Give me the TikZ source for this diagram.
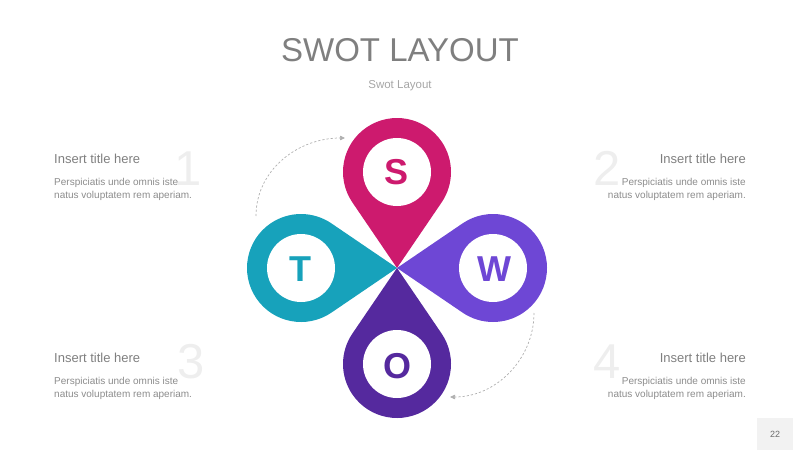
\documentclass[tikz,border=0pt]{standalone}
\usepackage{fontspec}
\setmainfont{Liberation Sans}
\usetikzlibrary{arrows.meta}
\definecolor{cS}{HTML}{CD1A6E}
\definecolor{cT}{HTML}{17A2BB}
\definecolor{cW}{HTML}{6E47D5}
\definecolor{cO}{HTML}{55299E}
\definecolor{titlegray}{HTML}{7F7F7F}
\definecolor{subgray}{HTML}{A6A6A6}
\definecolor{bodygray}{HTML}{8C8C8C}
\definecolor{numgray}{HTML}{EEEEEE}
\definecolor{boxgray}{HTML}{F2F2F2}
\definecolor{pggray}{HTML}{6B6B6B}
\definecolor{dashgray}{HTML}{AFAFAF}
\begin{document}
\begin{tikzpicture}[x=1pt,y=-1pt,
  letter/.style={font=\fontsize{36}{36}\selectfont\bfseries, inner sep=0pt},
  bigtitle/.style={font=\fontsize{33}{33}\selectfont, text=titlegray, inner sep=0pt},
  subtitle/.style={font=\fontsize{11.5}{12}\selectfont, text=subgray, inner sep=0pt},
  itemtitle/.style={font=\fontsize{13}{14}\selectfont, text=titlegray, inner sep=0pt},
  itembody/.style={font=\fontsize{10}{13}\selectfont, text=bodygray, inner sep=0pt},
  bignum/.style={font=\fontsize{49}{49}\selectfont, text=numgray, inner sep=0pt},
  cyclearrow/.style={draw=dashgray, line width=0.7pt, dash pattern=on 2.2pt off 2pt, -{Triangle[length=5pt,width=4.5pt]}},
]
\useasboundingbox (0,0) rectangle (800,450);

% titles
\node[bigtitle, anchor=base] (title) at (400,61.5) {SWOT LAYOUT};
\node[subtitle, anchor=base] (sub) at (400,88) {Swot Layout};

% big numbers (background)
\node[bignum, anchor=base] (n1) at (188,185.5) {1};
\node[bignum, anchor=base] (n2) at (607,185.5) {2};
\node[bignum, anchor=base] (n3) at (191,378.5) {3};
\node[bignum, anchor=base] (n4) at (607,378.5) {4};

% text blocks
\node[itemtitle, anchor=base west] (h1) at (54,163) {Insert title here};
\node[itembody, anchor=base west, align=left] (b1) at (54,198) {Perspiciatis unde omnis iste\\natus voluptatem rem aperiam.};
\node[itemtitle, anchor=base east] (h2) at (746,163) {Insert title here};
\node[itembody, anchor=base east, align=right] (b2) at (746,198) {Perspiciatis unde omnis iste\\natus voluptatem rem aperiam.};
\node[itemtitle, anchor=base west] (h3) at (54,362) {Insert title here};
\node[itembody, anchor=base west, align=left] (b3) at (54,397) {Perspiciatis unde omnis iste\\natus voluptatem rem aperiam.};
\node[itemtitle, anchor=base east] (h4) at (746,362) {Insert title here};
\node[itembody, anchor=base east, align=right] (b4) at (746,397) {Perspiciatis unde omnis iste\\natus voluptatem rem aperiam.};

% pins
\foreach \ang/\col in {90/cS, 180/cT, 0/cW, 270/cO}{
  \begin{scope}[shift={(397,268)}, rotate=\ang]
    \fill[\col] (0,0) -- ([shift={(96,0)}]-124.2:54) arc[start angle=-124.2, end angle=124.2, radius=54] -- cycle;
    \fill[white] (96,0) circle[radius=34];
  \end{scope}
}
\node[letter, text=cS] (S) at (397,172) {S};
\node[letter, text=cT] (T) at (300,269) {T};
\node[letter, text=cW] (W) at (494,269) {W};
\node[letter, text=cO] (O) at (397,366) {O};

% dashed cycle arrows
\coordinate (a1) at (256,216);
\coordinate (a2) at (345,138);
\draw[cyclearrow] (a1) .. controls (256,170) and (298,138) .. (a2);
\coordinate (c1) at (534,313);
\coordinate (c2) at (450,397);
\draw[cyclearrow] (c1) .. controls (534,359) and (496,397) .. (c2);

% page number
\node[fill=boxgray, minimum width=36pt, minimum height=32pt, inner sep=0pt] (pg) at (775,434) {};
\node[font=\fontsize{9}{10}\selectfont, text=pggray, inner sep=0pt] (pgn) at (775,434) {22};
\end{tikzpicture}
\end{document}
